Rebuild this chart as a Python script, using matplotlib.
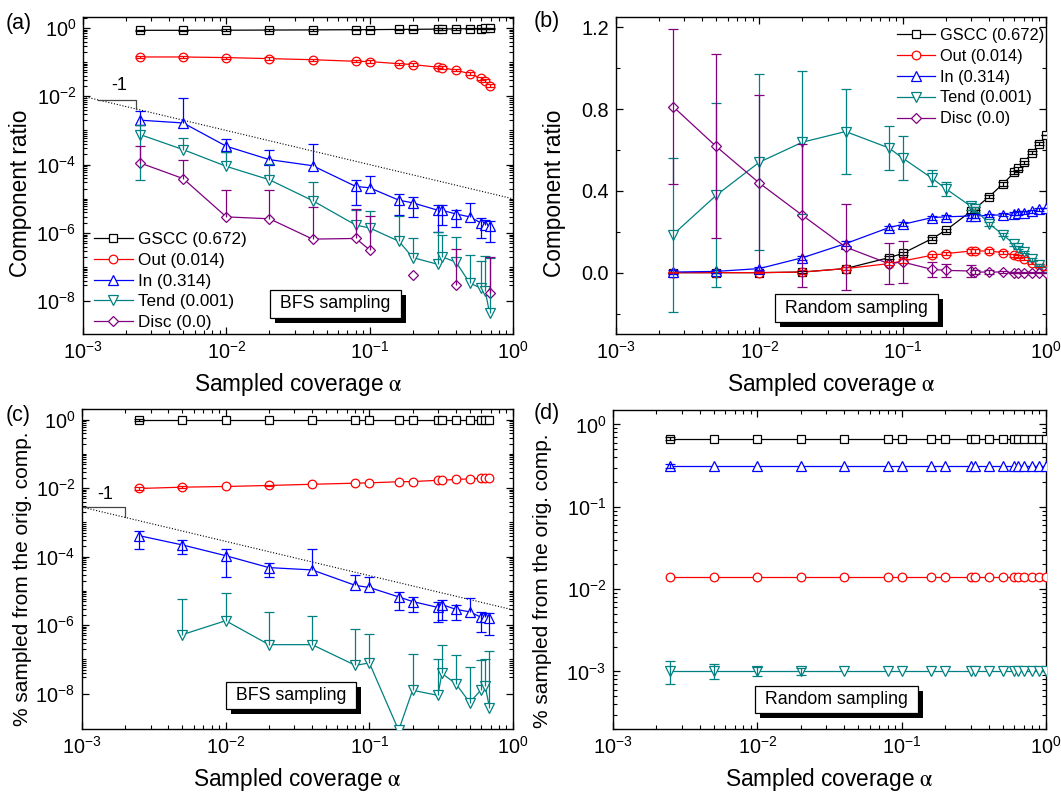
import numpy as np
import matplotlib
matplotlib.use('Agg')
import matplotlib.pyplot as plt
from matplotlib.ticker import FixedLocator, LogFormatterMathtext, NullFormatter, FormatStrFormatter
import matplotlib.patheffects as pe

plt.rcParams['font.family'] = ['Liberation Sans', 'DejaVu Sans']
plt.rcParams['mathtext.fontset'] = 'stix'

nan = np.nan

# ---------------- x values (sampled coverage) ----------------
alpha_bfs = [0.0025, 0.005, 0.01, 0.02, 0.04, 0.08, 0.1, 0.16, 0.2, 0.3, 0.32,
             0.4, 0.5, 0.6, 0.64, 0.686]
alpha_rnd = [0.0025, 0.005, 0.01, 0.02, 0.04, 0.08, 0.1, 0.16, 0.2, 0.3, 0.32,
             0.4, 0.5, 0.6, 0.64, 0.7, 0.8, 0.9, 1.0]

labels = ['GSCC (0.672)', 'Out (0.014)', 'In (0.314)', 'Tend (0.001)', 'Disc (0.0)']
colors = ['black', '#FF0000', '#0000FF', '#008080', '#800080']

# ---------------- (a) BFS sampling, component ratio ----------------
gscc_a = [0.856, 0.856, 0.862, 0.871, 0.88, 0.893, 0.895, 0.91, 0.915, 0.929, 0.931,
          0.942, 0.954, 0.966, 0.971, 0.979]
gscc_a_hi = [0.90, 0.90, 0.91, 0.92, 0.93, 0.94, 0.94, 0.96, 0.96, 0.98, 0.98,
             0.99, 1.0, 1.01, 1.02, 1.03]
gscc_a_lo = [0.81, 0.81, 0.82, 0.83, 0.84, 0.85, 0.85, 0.86, 0.87, 0.88, 0.88,
             0.89, 0.91, 0.92, 0.92, 0.93]
out_a = [0.142, 0.142, 0.136, 0.127, 0.118, 0.106, 0.104, 0.090, 0.085, 0.071, 0.069,
         0.058, 0.046, 0.034, 0.029, 0.0205]
out_a_hi = [0.152, 0.152, 0.146, 0.137, 0.127, 0.114, 0.112, 0.097, 0.092, 0.077, 0.075,
            0.063, 0.050, 0.037, 0.032, 0.0225]
out_a_lo = [0.132, 0.132, 0.127, 0.118, 0.110, 0.099, 0.097, 0.084, 0.079, 0.066, 0.064,
            0.054, 0.043, 0.031, 0.027, 0.019]
in_a = [2.0e-3, 1.66e-3, 3.45e-4, 1.4e-4, 9.3e-5, 2.3e-5, 2.1e-5, 9.1e-6, 7.6e-6, 4.6e-6,
        4.6e-6, 3.6e-6, 2.95e-6, 1.95e-6, 1.75e-6, 1.57e-6]
in_a_hi = [3.8e-3, 8.7e-3, 5.6e-4, 2.6e-4, 4.0e-4, 3.6e-5, 4.5e-5, 1.4e-5, 1.1e-5, 6.7e-6,
           6.7e-6, 4.8e-6, 7.6e-6, 2.7e-6, 2.45e-6, 2.3e-6]
in_a_lo = [1.4e-3, nan, 2.4e-4, nan, nan, 6.7e-6, nan, 3.3e-6, 2.9e-6, 1.1e-6,
           1.75e-6, 1.5e-6, nan, 7.1e-7, nan, 5.3e-7]
tend_a = [7.6e-4, 2.75e-4, 8.9e-5, 3.6e-5, 8.8e-6, 1.7e-6, 1.4e-6, 5.7e-7, 1.9e-7, 1.2e-7,
          2.0e-7, 1.4e-7, 3.4e-8, 2.4e-8, 2.0e-8, 4.6e-9]
tend_a_hi = [1.4e-3, 6.0e-4, 2.3e-4, 1.05e-4, 3.2e-5, 4.8e-6, 4.3e-6, 3.2e-6, 7.1e-7, 1.07e-6,
             9.0e-7, 7.6e-7, 2.2e-7, 1.55e-7, 2.1e-7, 1.85e-7]
tend_a_lo = [3.6e-5, nan, nan, nan, nan, nan, nan, nan, nan, nan,
             nan, nan, nan, nan, nan, nan]
disc_a = [1.12e-4, 3.9e-5, 2.95e-6, 2.6e-6, 6.6e-7, 6.9e-7, 3.2e-7, nan, 5.9e-8, nan,
          nan, 2.9e-8, nan, nan, nan, 1.7e-8]
disc_a_hi = [3.4e-4, 1.37e-4, 1.78e-5, 1.85e-5, 5.6e-6, 5.0e-6, 3.1e-6, nan, nan, nan,
             nan, 3.4e-7, nan, nan, nan, 1.95e-7]

# ---------------- (b) random sampling, component ratio ----------------
gscc_b = [0.0, 0.0, 0.0, 0.003, 0.02, 0.073, 0.094, 0.166, 0.207, 0.30, 0.313,
          0.371, 0.433, 0.49, 0.51, 0.54, 0.586, 0.63, 0.672]
out_b = [0.0, 0.0, 0.0, 0.003, 0.02, 0.044, 0.057, 0.085, 0.093, 0.106, 0.106,
         0.106, 0.098, 0.085, 0.08, 0.068, 0.049, 0.036, 0.014]
in_b = [0.003, 0.006, 0.02, 0.073, 0.142, 0.22, 0.236, 0.269, 0.273, 0.277, 0.277,
        0.28, 0.283, 0.288, 0.291, 0.293, 0.30, 0.31, 0.314]
tend_b = [0.186, 0.378, 0.54, 0.638, 0.69, 0.61, 0.56, 0.462, 0.41, 0.324, 0.31,
          0.24, 0.186, 0.138, 0.122, 0.10, 0.065, 0.039, 0.001]
disc_b = [0.812, 0.617, 0.438, 0.28, 0.125, 0.044, 0.052, 0.016, 0.011, 0.008, 0.003,
          0.003, 0.003, 0.0, 0.0, 0.0, 0.0, 0.0, 0.0]
gscc_b_err = [0.004, 0.004, 0.004, 0.006, 0.008, 0.008, 0.008, 0.008, 0.008, 0.008, 0.008,
              0.008, 0.008, 0.008, 0.008, 0.008, 0.008, 0.008, 0.0]
out_b_err = [0.004, 0.004, 0.004, 0.008, 0.008, 0.008, 0.008, 0.008, 0.008, 0.008, 0.008,
             0.008, 0.008, 0.008, 0.008, 0.008, 0.008, 0.008, 0.0]
in_b_err = [0.008, 0.008, 0.008, 0.01, 0.012, 0.01, 0.01, 0.01, 0.01, 0.008, 0.008,
            0.008, 0.008, 0.008, 0.008, 0.008, 0.008, 0.008, 0.0]
tend_b_err = [0.377, 0.45, 0.43, 0.35, 0.21, 0.106, 0.107, 0.04, 0.035, 0.017, 0.012,
              0.01, 0.008, 0.008, 0.008, 0.006, 0.006, 0.005, 0.0]
disc_b_err = [0.377, 0.45, 0.43, 0.35, 0.21, 0.10, 0.105, 0.035, 0.03, 0.03, 0.012,
              0.008, 0.006, 0.004, 0.004, 0.004, 0.003, 0.003, 0.0]

# ---------------- (c) BFS sampling, fraction of original component ----------------
gscc_c = [0.98, 0.98, 0.98, 0.98, 0.98, 0.98, 0.98, 0.98, 0.98, 0.98, 0.98,
          0.98, 0.98, 0.98, 0.98, 0.98]
gscc_c_hi = [1.03, nan, nan, nan, nan, nan, nan, nan, nan, nan, nan,
             nan, nan, nan, nan, nan]
gscc_c_lo = [0.93, nan, nan, nan, nan, nan, nan, nan, nan, nan, nan,
             nan, nan, nan, nan, nan]
out_c = [9.8e-3, 1.07e-2, 1.12e-2, 1.2e-2, 1.3e-2, 1.4e-2, 1.43e-2, 1.54e-2, 1.56e-2, 1.7e-2,
         1.7e-2, 1.8e-2, 1.87e-2, 1.93e-2, 1.97e-2, 2.0e-2]
out_c_hi = [1.06e-2, 1.12e-2, nan, 1.27e-2, nan, nan, nan, nan, nan, nan,
            nan, nan, nan, nan, nan, nan]
out_c_lo = [9.1e-3, 1.01e-2, nan, 1.13e-2, nan, nan, nan, nan, nan, nan,
            nan, nan, nan, nan, nan, nan]
in_c = [4.1e-4, 2.2e-4, 1.07e-4, 4.8e-5, 4.1e-5, 1.45e-5, 1.26e-5, 6.7e-6, 4.9e-6, 3.3e-6,
        4.0e-6, 2.9e-6, 2.45e-6, 1.7e-6, 1.75e-6, 1.58e-6]
in_c_hi = [5.8e-4, 3.1e-4, 1.7e-4, 6.7e-5, 1.7e-4, 3.0e-5, 2.6e-5, 9.5e-6, 6.7e-6, 4.6e-6,
           5.6e-6, 4.0e-6, 6.3e-6, 2.35e-6, 2.2e-6, 2.2e-6]
in_c_lo = [1.67e-4, 1.2e-4, 2.6e-5, 2.5e-5, nan, nan, nan, 2.75e-6, 2.45e-6, 1.25e-6,
           1.4e-6, 1.4e-6, nan, 6.3e-7, nan, 5.1e-7]
tend_c = [nan, 5.3e-7, 1.35e-6, 2.7e-7, 2.7e-7, 6.7e-8, 7.9e-8, 8.5e-10, 1.26e-8, 8.9e-9,
          3.9e-8, 1.96e-8, 5.5e-9, 1.3e-8, 1.7e-8, 3.9e-9]
tend_c_hi = [nan, 5.9e-6, 8.5e-6, 2.35e-6, 1.9e-6, 7.6e-7, 5.5e-7, nan, 1.48e-7, 1.0e-7,
             2.6e-7, 1.38e-7, 6.0e-8, 9.5e-8, 1.03e-7, 1.78e-7]

# ---------------- (d) random sampling, fraction of original component ----------------
gscc_d = [0.672, 0.672, 0.672, 0.672, 0.672, 0.672, 0.672, 0.672, 0.672, 0.672, 0.672,
          0.672, 0.672, 0.672, 0.672, 0.672, 0.672, 0.672, 0.672]
out_d = [0.014, 0.014, 0.014, 0.014, 0.014, 0.014, 0.014, 0.014, 0.014, 0.014, 0.014,
         0.014, 0.014, 0.014, 0.014, 0.014, 0.014, 0.014, 0.014]
in_d = [0.314, 0.314, 0.314, 0.314, 0.314, 0.314, 0.314, 0.314, 0.314, 0.314, 0.314,
        0.314, 0.314, 0.314, 0.314, 0.314, 0.314, 0.314, 0.314]
tend_d = [0.001, 0.001, 0.001, 0.001, 0.001, 0.001, 0.001, 0.001, 0.001, 0.001, 0.001,
          0.001, 0.001, 0.001, 0.001, 0.001, 0.001, 0.001, 0.001]
gscc_d_hi = [0.70] + [nan] * 18
gscc_d_lo = [0.645] + [nan] * 18
in_d_hi = [0.335] + [nan] * 18
in_d_lo = [0.295] + [nan] * 18
tend_d_hi = [1.35e-3, 1.22e-3, 1.13e-3, 1.1e-3] + [nan] * 15
tend_d_lo = [7.1e-4, 8.1e-4, 8.9e-4, 9.1e-4] + [nan] * 15

markers = ['s', 'o', '^', 'v', 'D']
msizes = [5.5, 6.2, 7.5, 7.5, 5.2]
LW = 0.9
TICK_FS = 14.3
LABEL_FS = 16.3


def series(ax, x, y, k, hi=None, lo=None, label=None):
    x = np.asarray(x, float)
    y = np.asarray(y, float)
    c = colors[k]
    ax.plot(x, y, color=c, lw=LW, marker=markers[k], ms=msizes[k], mfc='white',
            mec=c, mew=0.9, label=label, zorder=3)
    if hi is None and lo is None:
        return
    hi_a = np.full_like(y, nan) if hi is None else np.asarray(hi, float)
    lo_a = np.full_like(y, nan) if lo is None else np.asarray(lo, float)
    up = np.where(np.isnan(hi_a), 0.0, hi_a - y)
    dn = np.where(np.isnan(lo_a), 0.0, y - lo_a)
    ax.errorbar(x, y, yerr=[dn, up], fmt='none', ecolor=c, elinewidth=LW,
                capsize=0, zorder=4)
    ax.plot(x, hi_a, ls='none', marker='_', ms=6.5, mew=LW, color=c, zorder=4)
    ax.plot(x, lo_a, ls='none', marker='_', ms=6.5, mew=LW, color=c, zorder=4)


def sym(y, e):
    y = np.asarray(y, float)
    e = np.asarray(e, float)
    return y + e, y - e


def style_x(ax):
    ax.set_xscale('log')
    ax.set_xlim(1e-3, 1)
    ax.xaxis.set_major_locator(FixedLocator([1e-3, 1e-2, 1e-1, 1]))
    ax.xaxis.set_major_formatter(LogFormatterMathtext())
    ax.xaxis.set_minor_locator(FixedLocator([m * 10.0 ** e for e in range(-3, 0) for m in range(2, 10)]))
    ax.xaxis.set_minor_formatter(NullFormatter())
    ax.set_xlabel(r'Sampled coverage $\mathrm{\alpha}$', fontsize=LABEL_FS, labelpad=6)


def style_common(ax):
    ax.tick_params(which='both', direction='in', top=True, right=True,
                   labelsize=TICK_FS, pad=5)
    ax.tick_params(which='major', length=5, width=0.9)
    ax.tick_params(which='minor', length=2.8, width=0.8)
    for s in ax.spines.values():
        s.set_linewidth(1.0)


def style_logy(ax, majors, lo_exp, hi_exp, ylim):
    ax.set_yscale('log')
    ax.set_ylim(*ylim)
    ax.yaxis.set_major_locator(FixedLocator(majors))
    ax.yaxis.set_major_formatter(LogFormatterMathtext())
    mins = [m * 10.0 ** e for e in range(lo_exp, hi_exp + 1) for m in range(1, 10)
            if not any(np.isclose(m * 10.0 ** e, M) for M in majors)]
    ax.yaxis.set_minor_locator(FixedLocator(mins))
    ax.yaxis.set_minor_formatter(NullFormatter())


def shadow_box(ax, x, y, s):
    t = ax.text(x, y, ' ' + s + ' ', transform=ax.transAxes, ha='center', va='center',
                fontsize=12.8, zorder=10,
                bbox=dict(boxstyle='square,pad=0.3', fc='white', ec='black', lw=0.9))
    t.get_bbox_patch().set_path_effects([
        pe.SimplePatchShadow(offset=(3.6, -3.6), shadow_rgbFace='black', alpha=1.0),
        pe.Normal()])


fig = plt.figure(figsize=(10.61, 7.94), dpi=100)
W, H = 1061.0, 794.0


def axes_px(l, t, r, b):
    return fig.add_axes([l / W, 1 - b / H, (r - l) / W, (b - t) / H])


axa = axes_px(83, 17, 513, 334)
axb = axes_px(616, 17, 1046, 334)
axc = axes_px(82, 409, 513, 729)
axd = axes_px(613, 410, 1046, 729)

# ----- (a)
ax = axa
series(ax, alpha_bfs, gscc_a, 0, gscc_a_hi, gscc_a_lo, labels[0])
series(ax, alpha_bfs, out_a, 1, out_a_hi, out_a_lo, labels[1])
series(ax, alpha_bfs, in_a, 2, in_a_hi, in_a_lo, labels[2])
series(ax, alpha_bfs, tend_a, 3, tend_a_hi, tend_a_lo, labels[3])
series(ax, alpha_bfs, disc_a, 4, disc_a_hi, None, labels[4])
style_x(ax)
style_logy(ax, [1e-8, 1e-6, 1e-4, 1e-2, 1], -9, 0, (1.1e-9, 2.1))
style_common(ax)
ax.set_ylabel('Component ratio', fontsize=LABEL_FS)
ax.yaxis.set_label_coords(-0.119, 0.443)
xs = np.array([1e-3, 1.0])
ax.plot(xs, 1e-5 / xs, ls=(0, (1, 1.6)), color='black', lw=0.8, zorder=2)
ax.plot([1.27e-3, 2.33e-3, 2.33e-3], [1e-5 / 1.27e-3, 1e-5 / 1.27e-3, 1e-5 / 2.33e-3],
        color='#444444', lw=0.9, zorder=2)
ax.text(1.8e-3, 1.15e-2, '-1', ha='center', va='bottom', fontsize=13)
ax.legend(loc='lower left', bbox_to_anchor=(0.025, 0.012), frameon=False, fontsize=12.3,
          handlelength=2.3, handletextpad=0.3, labelspacing=0.34, borderpad=0,
          borderaxespad=0, numpoints=1)
shadow_box(ax, 0.587, 0.095, 'BFS sampling')

# ----- (b)
ax = axb
for k, (yv, ev) in enumerate([(gscc_b, gscc_b_err), (out_b, out_b_err), (in_b, in_b_err),
                               (tend_b, tend_b_err), (disc_b, disc_b_err)]):
    hi, lo = sym(yv, ev)
    series(ax, alpha_rnd, yv, k, hi, lo, labels[k])
style_x(ax)
ax.set_ylim(-0.3, 1.25)
ax.yaxis.set_major_locator(FixedLocator([0.0, 0.4, 0.8, 1.2]))
ax.yaxis.set_minor_locator(FixedLocator([-0.2, 0.2, 0.6, 1.0]))
ax.yaxis.set_major_formatter(FormatStrFormatter('%.1f'))
style_common(ax)
ax.set_ylabel('Component ratio', fontsize=LABEL_FS)
ax.yaxis.set_label_coords(-0.116, 0.443)
ax.legend(loc='upper right', bbox_to_anchor=(0.995, 0.966), frameon=False, fontsize=11.8,
          handlelength=2.3, handletextpad=0.3, labelspacing=0.36, borderpad=0,
          borderaxespad=0, numpoints=1)
shadow_box(ax, 0.559, 0.082, 'Random sampling')

# ----- (c)
ax = axc
series(ax, alpha_bfs, gscc_c, 0, gscc_c_hi, gscc_c_lo)
series(ax, alpha_bfs, out_c, 1, out_c_hi, out_c_lo)
series(ax, alpha_bfs, in_c, 2, in_c_hi, in_c_lo)
series(ax, alpha_bfs, tend_c, 3, tend_c_hi, None)
style_x(ax)
style_logy(ax, [1e-8, 1e-6, 1e-4, 1e-2, 1], -10, 0, (9.3e-10, 2.05))
style_common(ax)
ax.set_ylabel('% sampled from the orig. comp.', fontsize=15.0)
ax.yaxis.set_label_coords(-0.116, 0.468)
ax.plot(xs, 2.8e-6 / xs, ls=(0, (1, 1.6)), color='black', lw=0.8, zorder=2)
ax.plot([1.0e-3, 2.0e-3, 2.0e-3], [2.8e-3, 2.8e-3, 1.4e-3],
        color='#444444', lw=0.9, zorder=2)
ax.text(1.45e-3, 3.6e-3, '-1', ha='center', va='bottom', fontsize=13)
shadow_box(ax, 0.485, 0.105, 'BFS sampling')

# ----- (d)
ax = axd
series(ax, alpha_rnd, gscc_d, 0, gscc_d_hi, gscc_d_lo)
series(ax, alpha_rnd, out_d, 1)
series(ax, alpha_rnd, in_d, 2, in_d_hi, in_d_lo)
series(ax, alpha_rnd, tend_d, 3, tend_d_hi, tend_d_lo)
style_x(ax)
style_logy(ax, [1e-3, 1e-2, 1e-1, 1], -4, 0, (2.0e-4, 1.5))
style_common(ax)
ax.set_ylabel('% sampled from the orig. comp.', fontsize=15.0)
ax.yaxis.set_label_coords(-0.141, 0.465)
shadow_box(ax, 0.516, 0.0925, 'Random sampling')

# panel letters
for s, (px, py) in zip(['(a)', '(b)', '(c)', '(d)'],
                       [(6, 23), (534, 22), (6, 415), (534, 414)]):
    fig.text(px / W, 1 - py / H, s, fontsize=15.5, ha='left', va='center')

fig.savefig('out.png', dpi=100)
